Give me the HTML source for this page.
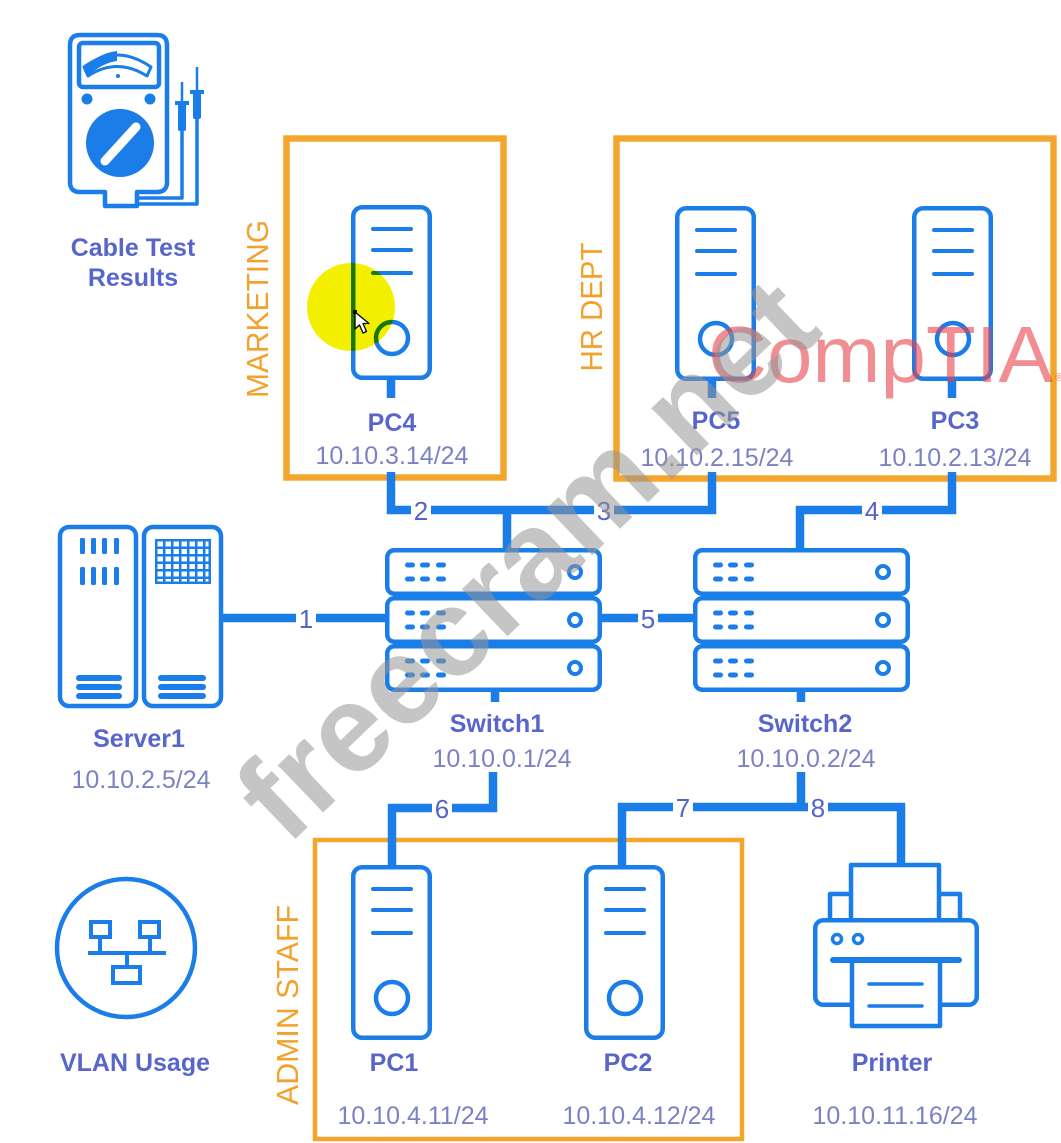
<!DOCTYPE html>
<html><head><meta charset="utf-8"><style>
html,body{margin:0;padding:0;background:#fff;}
svg{display:block;}
text{font-family:"Liberation Sans",Arial,sans-serif;}
.lb{font-weight:bold;font-size:25px;fill:#5866cc;text-anchor:middle;}
.ip{font-size:25px;fill:#7a82c4;text-anchor:middle;}
.nm{font-size:26px;fill:#5464c8;text-anchor:middle;}
.vt{font-size:31px;fill:#f2a22c;text-anchor:middle;}
</style></head><body>
<svg width="1061" height="1143" viewBox="0 0 1061 1143" xmlns="http://www.w3.org/2000/svg">
<defs>
<pattern id="gp" x="155" y="539" width="8" height="7.5" patternUnits="userSpaceOnUse"><rect x="2.5" y="2.5" width="5.5" height="5" fill="#fff"/></pattern>
</defs>
<rect width="1061" height="1143" fill="#fff"/>

<!-- group boxes -->
<g fill="none" stroke="#f4a52b">
<rect x="286.5" y="138.5" width="217" height="339" stroke-width="6.5"/>
<rect x="616.5" y="138.5" width="437" height="340" stroke-width="6.5"/>
<rect x="315" y="840" width="427" height="299" stroke-width="4.5"/>
</g>
<text class="vt" transform="translate(268,309) rotate(-90)" textLength="178" lengthAdjust="spacingAndGlyphs">MARKETING</text>
<text class="vt" transform="translate(602,307) rotate(-90)" textLength="129" lengthAdjust="spacingAndGlyphs">HR DEPT</text>
<text class="vt" transform="translate(298,1005) rotate(-90)" textLength="200" lengthAdjust="spacingAndGlyphs">ADMIN STAFF</text>

<!-- connectors -->
<g fill="none" stroke="#1a7de8" stroke-width="8.5" stroke-linejoin="miter" stroke-linecap="butt">
<path d="M391,380 V398"/>
<path d="M712,380 V398"/>
<path d="M952,380 V398"/>
<path d="M391,472 V510 H712 V472"/>
<path d="M507,510 V550"/>
<path d="M800,550 V510 H952 V472"/>
<path d="M223,618 H386"/>
<path d="M602,618 H694"/>
<path d="M495,692 V702"/>
<path d="M801,692 V702"/>
<path d="M493,772 V808 H392 V866"/>
<path d="M801,772 V807"/>
<path d="M622,866 V807 H901 V864"/>
</g>

<!-- number labels -->
<g fill="#fff">
<rect x="296" y="605" width="20" height="26"/>
<rect x="411" y="497" width="20" height="26"/>
<rect x="594" y="497" width="20" height="26"/>
<rect x="862" y="497" width="20" height="26"/>
<rect x="638" y="605" width="20" height="26"/>
<rect x="432" y="795" width="20" height="26"/>
<rect x="673" y="794" width="20" height="26"/>
<rect x="808" y="794" width="20" height="26"/>
</g>
<text class="nm" x="306" y="628">1</text>
<text class="nm" x="421" y="520">2</text>
<text class="nm" x="604" y="520">3</text>
<text class="nm" x="872" y="520">4</text>
<text class="nm" x="648" y="628">5</text>
<text class="nm" x="442" y="818">6</text>
<text class="nm" x="683" y="817">7</text>
<text class="nm" x="818" y="817">8</text>

<!-- multimeter -->
<g fill="none" stroke="#1a7de8" stroke-width="4.5" stroke-linejoin="round">
<path d="M80,35 H157 Q167,35 167,45 V182 Q167,192 157,192 H137 V206 H105 V192 H80 Q70,192 70,182 V45 Q70,35 80,35 Z"/>
<rect x="79" y="43" width="80" height="44" rx="4"/>
<path d="M84,67 Q117,43 151,67 L147,76 Q117,57 88,76 Z" stroke-width="3"/>
<path d="M137,204 H197 V118" stroke-width="3.5"/>
<path d="M137,198 H182 V130" stroke-width="3.5"/>
<path d="M182,103 V82" stroke-width="2.5"/>
<path d="M197,92 V67" stroke-width="2.5"/>
</g>
<g fill="#1a7de8">
<path d="M84,67 Q100,53 117,51 L117,61 Q102,63 88,76 Z"/>
<circle cx="118" cy="76" r="2"/>
<circle cx="87" cy="99" r="5.5"/>
<circle cx="150" cy="99" r="5.5"/>
<circle cx="120" cy="143" r="34"/>
<rect x="178" y="103" width="8" height="28" rx="2"/>
<rect x="175" y="101" width="14" height="4"/>
<rect x="193" y="92" width="8" height="27" rx="2"/>
<rect x="190" y="90" width="14" height="4"/>
</g>
<line x1="105" y1="161" x2="136" y2="127" stroke="#fff" stroke-width="9" stroke-linecap="round"/>
<text class="lb" x="133" y="256">Cable Test</text>
<text class="lb" x="133" y="286">Results</text>

<!-- server1 -->
<g fill="none" stroke="#1a7de8" stroke-width="4.5">
<rect x="60" y="527" width="76" height="179" rx="9"/>
<rect x="144" y="527" width="77" height="179" rx="9"/>
</g>
<g fill="#1a7de8">
<rect x="80" y="538" width="5" height="16" rx="1.5"/><rect x="91" y="538" width="5" height="16" rx="1.5"/><rect x="102" y="538" width="5" height="16" rx="1.5"/><rect x="114" y="538" width="5" height="16" rx="1.5"/>
<rect x="80" y="567" width="5" height="18" rx="1.5"/><rect x="91" y="567" width="5" height="18" rx="1.5"/><rect x="102" y="567" width="5" height="18" rx="1.5"/><rect x="114" y="567" width="5" height="18" rx="1.5"/>
<rect x="155" y="539" width="56" height="45"/>
<rect x="76" y="675" width="46" height="6" rx="3"/><rect x="76" y="684" width="46" height="6" rx="3"/><rect x="76" y="693" width="46" height="6" rx="3"/>
<rect x="158" y="675" width="48" height="6" rx="3"/><rect x="158" y="684" width="48" height="6" rx="3"/><rect x="158" y="693" width="48" height="6" rx="3"/>
</g>
<rect x="155" y="539" width="53.5" height="42.5" fill="url(#gp)"/>
<text class="lb" x="139" y="747">Server1</text>
<text class="ip" x="141" y="788">10.10.2.5/24</text>

<!-- switches -->
<g fill="none" stroke="#1a7de8" stroke-width="4.5">
<rect x="387.25" y="550.25" width="212.5" height="43.5" rx="7"/>
<rect x="387.25" y="598.25" width="212.5" height="43.5" rx="7"/>
<rect x="387.25" y="646.25" width="212.5" height="43.5" rx="7"/>
<circle cx="575" cy="572" r="6" stroke-width="4"/>
<circle cx="575" cy="620" r="6" stroke-width="4"/>
<circle cx="575" cy="668" r="6" stroke-width="4"/>
<rect x="695.25" y="550.25" width="212.5" height="43.5" rx="7"/>
<rect x="695.25" y="598.25" width="212.5" height="43.5" rx="7"/>
<rect x="695.25" y="646.25" width="212.5" height="43.5" rx="7"/>
<circle cx="883" cy="572" r="6" stroke-width="4"/>
<circle cx="883" cy="620" r="6" stroke-width="4"/>
<circle cx="883" cy="668" r="6" stroke-width="4"/>
</g>
<g fill="#1a7de8">
<g id="dots1">
<rect x="405" y="562.5" width="10" height="5" rx="2.5"/><rect x="420" y="562.5" width="10" height="5" rx="2.5"/><rect x="436" y="562.5" width="10" height="5" rx="2.5"/>
<rect x="405" y="576.5" width="10" height="5" rx="2.5"/><rect x="420" y="576.5" width="10" height="5" rx="2.5"/><rect x="436" y="576.5" width="10" height="5" rx="2.5"/>
</g>
<use href="#dots1" transform="translate(0,48)"/>
<use href="#dots1" transform="translate(0,96)"/>
<use href="#dots1" transform="translate(308,0)"/>
<use href="#dots1" transform="translate(308,48)"/>
<use href="#dots1" transform="translate(308,96)"/>
</g>
<text class="lb" x="497" y="732">Switch1</text>
<text class="ip" x="502" y="767">10.10.0.1/24</text>
<text class="lb" x="805" y="732">Switch2</text>
<text class="ip" x="806" y="767">10.10.0.2/24</text>

<!-- PC towers -->
<g fill="none" stroke="#1a7de8" stroke-width="4.5" stroke-linecap="round">
<g id="pc4">
<rect x="353.25" y="207.25" width="76.5" height="170.5" rx="9"/>
<path d="M373,229 H411 M373,250 H411 M373,273 H411" stroke-width="4"/>
<circle cx="392" cy="338" r="16"/>
</g>
<use href="#pc4" transform="translate(324,1)"/>
<use href="#pc4" transform="translate(561,1)"/>
<use href="#pc4" transform="translate(0,660) scale(1,1)"/>
<use href="#pc4" transform="translate(233,660)"/>
</g>
<text class="lb" x="392" y="431">PC4</text>
<text class="ip" x="392" y="464">10.10.3.14/24</text>
<text class="lb" x="716" y="429">PC5</text>
<text class="ip" x="717" y="466">10.10.2.15/24</text>
<text class="lb" x="955" y="429">PC3</text>
<text class="ip" x="955" y="466">10.10.2.13/24</text>
<text class="lb" x="394" y="1071">PC1</text>
<text class="ip" x="413" y="1124">10.10.4.11/24</text>
<text class="lb" x="628" y="1071">PC2</text>
<text class="ip" x="639" y="1124">10.10.4.12/24</text>

<!-- printer -->
<g fill="none" stroke="#1a7de8" stroke-width="4.5" stroke-linejoin="round">
<path d="M851,918 V865 H939 V918"/>
<path d="M851,894 H830 V918 M939,894 H960 V918"/>
<rect x="815.25" y="920.25" width="161.5" height="84.5" rx="8" fill="#fff"/>
<circle cx="837" cy="939" r="4.5" stroke-width="3.5"/>
<circle cx="858" cy="939" r="4.5" stroke-width="3.5"/>
<rect x="852" y="960" width="88" height="66" fill="#fff"/>
<path d="M869,984 H922 M869,1006 H922" stroke-width="3.5" stroke-linecap="round"/>
<path d="M833,960 H959" stroke-width="6" stroke-linecap="round"/>
</g>
<text class="lb" x="892" y="1071">Printer</text>
<text class="ip" x="895" y="1124">10.10.11.16/24</text>

<!-- VLAN icon -->
<g fill="none" stroke="#1a7de8" stroke-width="4.5">
<circle cx="126" cy="948" r="69"/>
<rect x="91" y="922" width="19" height="15" stroke-width="4"/>
<rect x="140" y="922" width="19" height="15" stroke-width="4"/>
<path d="M100,937 V953 M150,937 V953 M88,953 H166 M127,953 V967" stroke-width="4"/>
<rect x="113" y="967" width="27" height="16" stroke-width="4"/>
</g>
<text class="lb" x="135" y="1071">VLAN Usage</text>

<!-- yellow highlight & cursor -->
<circle cx="351" cy="307" r="44" fill="#f2f000" style="mix-blend-mode:multiply"/>
<path d="M355,312 L355,329 L359.5,325 L363,333 L366.5,331.5 L363,323.5 L369,323.5 Z" fill="#fff" stroke="#000" stroke-width="1.3" stroke-linejoin="round"/>
<rect x="353" y="310" width="4" height="4" fill="#000"/>

<!-- watermarks -->
<text x="708" y="382" textLength="345" lengthAdjust="spacingAndGlyphs" style="font-size:80px;fill:rgba(232,66,76,0.6)">CompTIA</text>
<text x="1055" y="381" style="font-size:11px;fill:rgba(232,66,76,0.6)">®</text>
<text transform="translate(287,847) rotate(-43.7)" textLength="744" lengthAdjust="spacingAndGlyphs" style="font-size:124px;font-weight:bold;fill:rgba(150,150,150,0.55)">freecram.net</text>
</svg>
</body></html>
